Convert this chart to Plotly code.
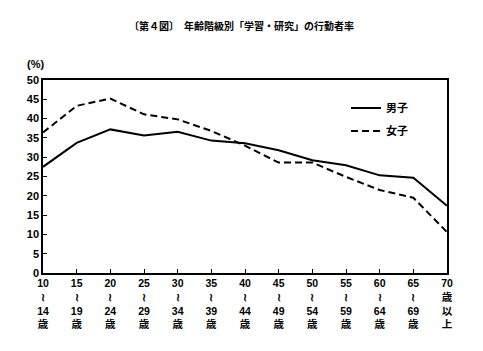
import plotly.graph_objects as go

age_groups = ["10～14歳", "15～19歳", "20～24歳", "25～29歳", "30～34歳", "35～39歳",
              "40～44歳", "45～49歳", "50～54歳", "55～59歳", "60～64歳", "65～69歳", "70歳以上"]
tick_labels = ["10<br>≀<br>14<br>歳", "15<br>≀<br>19<br>歳", "20<br>≀<br>24<br>歳",
               "25<br>≀<br>29<br>歳", "30<br>≀<br>34<br>歳", "35<br>≀<br>39<br>歳",
               "40<br>≀<br>44<br>歳", "45<br>≀<br>49<br>歳", "50<br>≀<br>54<br>歳",
               "55<br>≀<br>59<br>歳", "60<br>≀<br>64<br>歳", "65<br>≀<br>69<br>歳",
               "70<br>歳<br>以<br>上"]
male = [27.5, 33.7, 37.2, 35.6, 36.6, 34.3, 33.6, 31.8, 29.2, 27.9, 25.3, 24.7, 17.4]
female = [36.4, 43.3, 45.2, 41.1, 39.8, 36.8, 33.0, 28.6, 28.6, 24.9, 21.5, 19.5, 10.6]
y_ticks = list(range(0, 51, 5))

FONT = "Noto Sans CJK JP"
TICKFONT = "Liberation Sans, Noto Sans CJK JP"
xpos = list(range(len(age_groups)))

fig = go.Figure()
fig.add_trace(go.Scatter(x=xpos, y=male, mode="lines", name="男子", legendgroup="m",
                         line=dict(color="black", width=2)))
fig.add_trace(go.Scatter(x=xpos, y=female, mode="lines", name="女子", legendgroup="f",
                         line=dict(color="black", width=2, dash="7px,4px")))

fig.update_layout(
    width=483, height=351,
    margin=dict(l=43, r=36, t=80, b=78),
    paper_bgcolor="white", plot_bgcolor="white",
    font=dict(family=FONT, color="black", size=11, weight="bold"),
    showlegend=True,
    legend=dict(x=0.75, y=0.93, xanchor="left", yanchor="top",
                bgcolor="rgba(0,0,0,0)", font=dict(size=11, weight="bold"),
                itemwidth=30, tracegroupgap=4),
    title=dict(text="〔第４図〕　年齢階級別「学習・研究」の行動者率",
               x=0.5, xanchor="center", y=0.925, yanchor="middle",
               font=dict(size=10, weight="bold", family=FONT)),
    annotations=[dict(text="(%)", x=0, y=1.0, xref="paper", yref="paper",
                      xanchor="right", yanchor="bottom", xshift=3, yshift=8,
                      showarrow=False, font=dict(size=11, weight="bold", family=TICKFONT))],
)
fig.update_xaxes(range=[0, 12], tickvals=xpos, ticktext=tick_labels,
                 showgrid=False, zeroline=False, showline=True, linecolor="black",
                 linewidth=1.5, mirror=True, ticks="inside", ticklen=4,
                 tickcolor="black", tickfont=dict(size=10.5, weight="bold", family=TICKFONT))
fig.update_yaxes(range=[0, 50], tickvals=y_ticks, showgrid=False, zeroline=False,
                 showline=True, linecolor="black", linewidth=1.5, mirror=True,
                 ticks="inside", ticklen=4, tickcolor="black",
                 tickfont=dict(size=11, weight="bold", family=TICKFONT))

fig.write_html("out.html")
